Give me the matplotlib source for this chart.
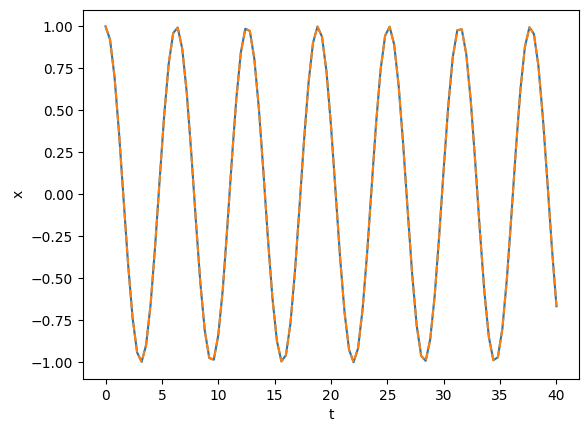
import numpy as np
import matplotlib
matplotlib.use("Agg")
import matplotlib.pyplot as plt

# time grid (101 samples from 0 to 40)
t = np.linspace(0, 40, 101)

# values
x_num = [1.000, 0.921, 0.697, 0.362, -0.029, -0.416, -0.737, -0.942, -0.998, -0.897,
         -0.654, -0.307, 0.087, 0.469, 0.776, 0.960, 0.993, 0.869, 0.608, 0.251,
         -0.146, -0.519, -0.811, -0.975, -0.985, -0.839, -0.568, -0.195, 0.203, 0.568,
         0.844, 0.986, 0.973, 0.806, 0.512, 0.137, -0.260, -0.615, -0.873, -0.995,
         -0.958, -0.770, -0.461, -0.079, 0.315, 0.660, 0.901, 0.999, 0.939, 0.731,
         0.408, 0.020, -0.371, -0.703, -0.925, -1.000, -0.917, -0.686, -0.354, 0.038,
         0.424, 0.743, 0.945, 0.998, 0.893, 0.647, 0.299, -0.096, -0.476, -0.781,
         -0.962, -0.992, -0.864, -0.602, -0.243, 0.154, 0.526, 0.816, 0.977, 0.983,
         0.834, 0.555, 0.186, -0.211, -0.576, -0.849, -0.988, -0.971, -0.801, -0.504,
         -0.128, 0.268, 0.622, 0.878, 0.995, 0.955, 0.764, 0.452, 0.070, -0.324,
         -0.667]
x_exact = list(x_num)

fig = plt.figure(figsize=(5.87, 4.32), dpi=100)
ax = fig.add_axes([0.1414, 0.1227, 0.845, 0.855])

ax.plot(t, x_num, color='#1f77b4')
ax.plot(t, x_exact, color='#ff7f0e', linestyle='--')

ax.set_xlabel("t")
ax.set_ylabel("x")

fig.savefig("out.png", dpi=100)
